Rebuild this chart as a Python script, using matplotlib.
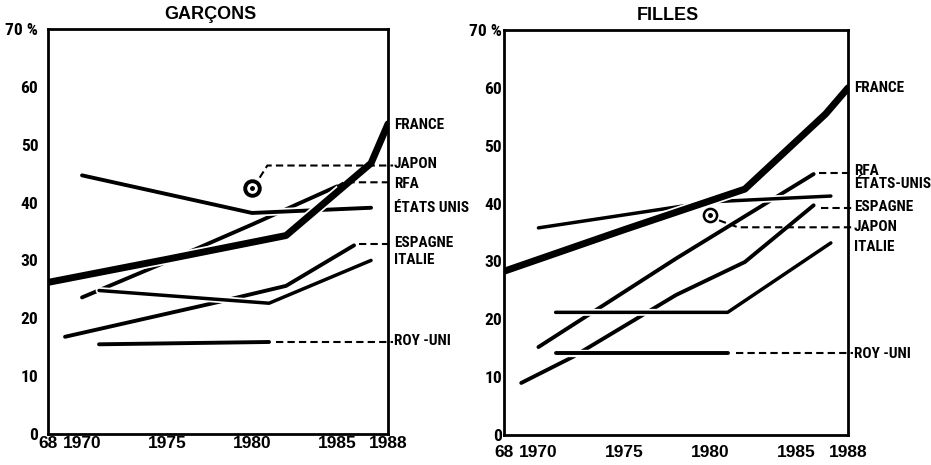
import matplotlib
matplotlib.use("Agg")
import matplotlib.pyplot as plt
import matplotlib.patheffects as pe
import matplotlib.font_manager as fm

# police etroite si elle existe, sinon Liberation Sans un peu plus petite
noms = {f.name for f in fm.fontManager.ttflist}
etroites = [n for n in ['Liberation Sans Narrow', 'DejaVu Sans Condensed',
                        'Roboto Condensed', 'Open Sans Condensed']
            if n in noms]
if etroites:
    POLICE = [etroites[0], 'DejaVu Sans']
    T_ETIQ = 11
    T_Y = 12.5
else:
    POLICE = ['Liberation Sans', 'DejaVu Sans']
    T_ETIQ = 9.5
    T_Y = 11.5

plt.rcParams['font.family'] = POLICE
plt.rcParams['font.weight'] = 'bold'

# ---- GARÇONS ----
g_france_x = [1968, 1975, 1982, 1987, 1988]
g_france_y = [26.2, 30.2, 34.3, 46.8, 53.6]
g_usa_x = [1970, 1980, 1987]
g_usa_y = [44.7, 38.2, 39.1]
g_rfa_x = [1970, 1975, 1980, 1985]
g_rfa_y = [23.6, 29.8, 36.2, 42.8]
g_espagne_x = [1969, 1978, 1982, 1986]
g_espagne_y = [16.8, 22.8, 25.6, 32.6]
g_italie_x = [1971, 1981, 1987]
g_italie_y = [24.8, 22.6, 30.0]
g_ru_x = [1971, 1981]
g_ru_y = [15.5, 15.9]
g_japon_x = 1980
g_japon_y = 42.6

# ---- FILLES ----
f_france_x = [1968, 1975, 1982, 1986.7, 1988]
f_france_y = [28.3, 35.5, 42.5, 55.5, 60.0]
f_usa_x = [1970, 1980, 1987]
f_usa_y = [35.8, 40.3, 41.3]
f_rfa_x = [1970, 1978, 1986]
f_rfa_y = [15.2, 30.5, 45.1]
f_espagne_x = [1969, 1972, 1978, 1982, 1986]
f_espagne_y = [9.0, 13.5, 24.2, 29.9, 39.7]
f_italie_x = [1971, 1981, 1987]
f_italie_y = [21.2, 21.2, 33.2]
f_ru_x = [1971, 1981]
f_ru_y = [14.1, 14.1]
f_japon_x = 1980
f_japon_y = 38.0

annees = [1968, 1970, 1975, 1980, 1985, 1988]
annees_txt = ['68', '1970', '1975', '1980', '1985', '1988']
pourcent = [0, 10, 20, 30, 40, 50, 60, 70]
pourcent_txt = ['0', '10', '20', '30', '40', '50', '60', '70 %']

FIN = 1988.3  # bout des pointilles, un peu apres le cadre


def ligne(ax, x, y, lw=2.8):
    ax.plot(x, y, color='black', lw=lw, solid_capstyle='round',
            solid_joinstyle='round',
            path_effects=[pe.Stroke(linewidth=lw + 2.5, foreground='white'),
                          pe.Normal()])


def pointilles(ax, x, y):
    ax.plot(x, y, color='black', lw=1.5, ls=(0, (3.5, 2)), clip_on=False)


def etiquette(ax, y, texte):
    ax.text(FIN + 0.05, y, texte, fontsize=T_ETIQ, fontweight='bold',
            va='center', ha='left', clip_on=False)


def japon(ax, x, y, mew, ms):
    ax.plot([x], [y], marker='o', ms=ms, mfc='white', mec='black',
            mew=mew, zorder=4)
    ax.plot([x], [y], marker='o', ms=2.5, color='black', zorder=5)


def cadre(ax, titre, ypad, xpad):
    ax.set_xlim(1968, 1988)
    ax.set_ylim(0, 70)
    ax.set_xticks(annees)
    ax.set_xticklabels(annees_txt, fontsize=12.5, fontweight='bold',
                       family=['Liberation Sans', 'DejaVu Sans'])
    ax.set_yticks(pourcent)
    ax.set_yticklabels(pourcent_txt, fontsize=T_Y, fontweight='bold')
    ax.tick_params(axis='y', length=0, pad=ypad)
    ax.tick_params(axis='x', length=0, pad=xpad)
    for s in ax.spines.values():
        s.set_linewidth(2)
        s.set_zorder(6)
    ax.set_title(titre, x=0.477, fontsize=13, fontweight='bold', pad=7,
                 family=['Liberation Sans', 'DejaVu Sans'])


fig = plt.figure(figsize=(9.31, 4.65), dpi=100)
ax_g = fig.add_axes([0.0516, 0.0667, 0.3652, 0.871])
ax_f = fig.add_axes([0.5414, 0.0645, 0.3695, 0.871])

# Garcons
ligne(ax_g, g_rfa_x, g_rfa_y)
ligne(ax_g, g_espagne_x, g_espagne_y)
ligne(ax_g, g_usa_x, g_usa_y)
ligne(ax_g, g_italie_x, g_italie_y, 2.5)
ligne(ax_g, g_ru_x, g_ru_y)
ligne(ax_g, g_france_x, g_france_y, 5)
japon(ax_g, g_japon_x, g_japon_y, 2.8, 10.5)

pointilles(ax_g, [g_japon_x + 0.45, g_japon_x + 0.9, FIN],
           [g_japon_y + 1.7, 46.4, 46.4])
pointilles(ax_g, [g_rfa_x[-1], g_rfa_x[-1] + 0.4, FIN],
           [g_rfa_y[-1], 43.5, 43.5])
pointilles(ax_g, [g_espagne_x[-1] + 0.3, FIN], [32.8, 32.8])
pointilles(ax_g, [g_ru_x[-1] + 0.4, FIN], [g_ru_y[-1], g_ru_y[-1]])

etiquette(ax_g, 53.4, 'FRANCE')
etiquette(ax_g, 46.6, 'JAPON')
etiquette(ax_g, 43.2, 'RFA')
etiquette(ax_g, 39.0, 'ÉTATS UNIS')
etiquette(ax_g, 33.0, 'ESPAGNE')
etiquette(ax_g, 30.0, 'ITALIE')
etiquette(ax_g, 16.0, 'ROY -UNI')
cadre(ax_g, 'GARÇONS', 7, 1.5)

# Filles
ligne(ax_f, f_rfa_x, f_rfa_y)
ligne(ax_f, f_espagne_x, f_espagne_y)
ligne(ax_f, f_usa_x, f_usa_y, 2.5)
ligne(ax_f, f_italie_x, f_italie_y, 2.5)
ligne(ax_f, f_ru_x, f_ru_y)
ligne(ax_f, f_france_x, f_france_y, 5)
japon(ax_f, f_japon_x, f_japon_y, 1.8, 9.5)

pointilles(ax_f, [f_japon_x + 0.5, f_japon_x + 1.6, FIN],
           [f_japon_y - 0.9, 35.9, 35.9])
pointilles(ax_f, [f_rfa_x[-1] + 0.3, FIN], [45.2, 45.2])
pointilles(ax_f, [f_espagne_x[-1] + 0.4, FIN], [39.2, 39.2])
pointilles(ax_f, [f_ru_x[-1] + 0.5, FIN], [f_ru_y[-1], f_ru_y[-1]])

etiquette(ax_f, 59.9, 'FRANCE')
etiquette(ax_f, 45.6, 'RFA')
etiquette(ax_f, 43.3, 'ÉTATS-UNIS')
etiquette(ax_f, 39.4, 'ESPAGNE')
etiquette(ax_f, 35.9, 'JAPON')
etiquette(ax_f, 32.5, 'ITALIE')
etiquette(ax_f, 14.0, 'ROY -UNI')
cadre(ax_f, 'FILLES', 1.5, 7)

fig.savefig("out.png", dpi=100)
